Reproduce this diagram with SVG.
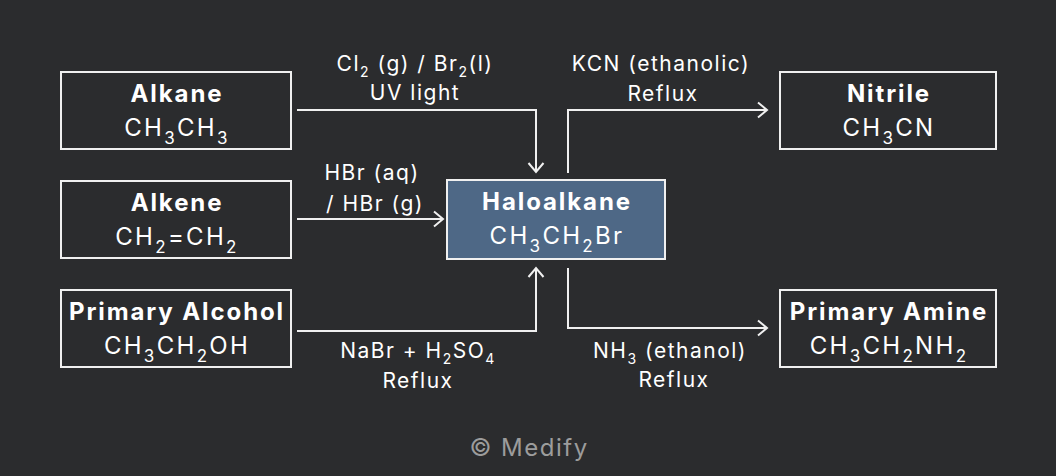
<svg xmlns="http://www.w3.org/2000/svg" width="1056" height="476" viewBox="0 0 1056 476">
<style>
text{font-family:Inter,"Liberation Sans",Arial,sans-serif;fill:#ffffff;text-anchor:middle}
.t{font-size:24px;font-weight:bold;letter-spacing:1.9px}
.f{font-size:24px;letter-spacing:2.3px}
.s{font-size:17px}
.l{font-size:21px;letter-spacing:1.5px}
.ls{font-size:14px}
.box{fill:none;stroke:#f0f0f0;stroke-width:2}
.hbox{fill:#4e6886;stroke:#f0f0f0;stroke-width:2}
.c{fill:none;stroke:#f0f0f0;stroke-width:2;marker-end:url(#arr)}
.cr{font-size:24px;letter-spacing:1.5px;fill:#9c9c9c}
</style>
<defs>
<marker id="arr" viewBox="-12 -10 14 20" refX="0" refY="0" markerWidth="14" markerHeight="20" markerUnits="userSpaceOnUse" orient="auto">
<path d="M-9,-7.5 L0,0 L-9,7.5" fill="none" stroke="#f0f0f0" stroke-width="2"/>
</marker>
</defs>
<rect width="1056" height="476" fill="#2b2c2e"/>
<g id="connectors">
<polyline class="c" points="297,110 536,110 536,172"/>
<polyline class="c" points="297,219 443,219"/>
<polyline class="c" points="297,331 536,331 536,268"/>
<polyline class="c" points="568,173 568,110 767,110"/>
<polyline class="c" points="568,268 568,328 767,328"/>
</g>
<g id="labels">
<text class="l" x="415" y="71">Cl<tspan class="ls" dy="6">2</tspan><tspan dy="-6"> (g) / Br</tspan><tspan class="ls" dy="6">2</tspan><tspan dy="-6">(l)</tspan></text>
<text class="l" x="415" y="100">UV light</text>
<text class="l" x="372" y="180">HBr (aq)</text>
<text class="l" x="375" y="211">/ HBr (g)</text>
<text class="l" x="418" y="358">NaBr + H<tspan class="ls" dy="6">2</tspan><tspan dy="-6">SO</tspan><tspan class="ls" dy="6">4</tspan></text>
<text class="l" x="418" y="388">Reflux</text>
<text class="l" x="661" y="71">KCN (ethanolic)</text>
<text class="l" x="663" y="101">Reflux</text>
<text class="l" x="670" y="358">NH<tspan class="ls" dy="6">3</tspan><tspan dy="-6"> (ethanol)</tspan></text>
<text class="l" x="674" y="387">Reflux</text>
</g>
<g id="alkane">
<rect class="box" x="61" y="72" width="230" height="77"/>
<text class="t" x="177" y="102">Alkane</text>
<text class="f" x="177" y="136">CH<tspan class="s" dy="8">3</tspan><tspan dy="-8">CH</tspan><tspan class="s" dy="8">3</tspan></text>
</g>
<g id="alkene">
<rect class="box" x="61" y="181" width="230" height="77"/>
<text class="t" x="177" y="211">Alkene</text>
<text class="f" x="177" y="245">CH<tspan class="s" dy="8">2</tspan><tspan dy="-8">=CH</tspan><tspan class="s" dy="8">2</tspan></text>
</g>
<g id="alcohol">
<rect class="box" x="61" y="290" width="230" height="77"/>
<text class="t" x="177" y="320">Primary Alcohol</text>
<text class="f" x="177" y="354">CH<tspan class="s" dy="8">3</tspan><tspan dy="-8">CH</tspan><tspan class="s" dy="8">2</tspan><tspan dy="-8">OH</tspan></text>
</g>
<g id="haloalkane">
<rect class="hbox" x="447" y="180" width="218" height="79"/>
<text class="t" x="557" y="209.5">Haloalkane</text>
<text class="f" x="557" y="243.5">CH<tspan class="s" dy="8">3</tspan><tspan dy="-8">CH</tspan><tspan class="s" dy="8">2</tspan><tspan dy="-8">Br</tspan></text>
</g>
<g id="nitrile">
<rect class="box" x="780" y="72" width="216" height="77"/>
<text class="t" x="889" y="102">Nitrile</text>
<text class="f" x="889" y="136">CH<tspan class="s" dy="8">3</tspan><tspan dy="-8">CN</tspan></text>
</g>
<g id="amine">
<rect class="box" x="780" y="290" width="216" height="77"/>
<text class="t" x="889" y="320">Primary Amine</text>
<text class="f" x="889" y="354">CH<tspan class="s" dy="8">3</tspan><tspan dy="-8">CH</tspan><tspan class="s" dy="8">2</tspan><tspan dy="-8">NH</tspan><tspan class="s" dy="8">2</tspan></text>
</g>
<text class="cr" x="529" y="456">© Medify</text>
</svg>
